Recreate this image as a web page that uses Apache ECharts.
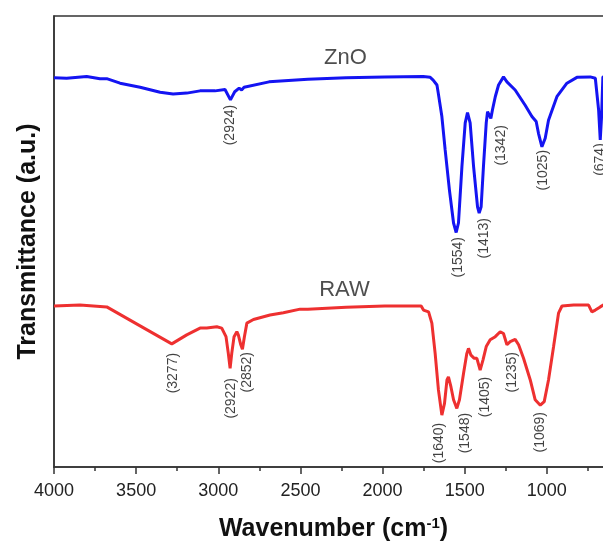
<!DOCTYPE html>
<html>
<head>
<meta charset="utf-8">
<script src="https://cdn.jsdelivr.net/npm/echarts@6/dist/echarts.min.js"></script>
<style>html,body{margin:0;padding:0;background:#fff;overflow:hidden}#c{width:603px;height:542px}</style>
</head>
<body>
<div id="c"></div>
<script>
// ---- data (wavenumber cm^-1, transmittance a.u.) ----
const znoSpectrum = [
 [4000,86.3],[3923,86.2],[3801,86.6],[3720,86.1],[3679,86.1],[3598,85.1],[3476,84.2],[3354,83.1],
 [3275,82.7],[3192,82.9],[3111,83.4],[3020,83.4],[2959,83.7],[2926,81.4],[2900,83.2],[2873,84.0],
 [2858,83.6],[2843,84.2],[2691,85.4],[2455,86.0],[2222,86.3],[1987,86.5],[1753,86.6],[1710,86.4],
 [1692,85.8],[1669,84.7],[1661,82.9],[1639,77.7],[1619,70.3],[1593,61.4],[1568,54.1],[1552,52.0],
 [1538,54.1],[1517,66.6],[1497,76.3],[1483,78.6],[1467,76.3],[1446,66.6],[1422,57.7],[1412,56.3],
 [1400,57.7],[1386,66.6],[1369,76.3],[1361,78.8],[1349,79.2],[1341,77.3],[1331,79.2],[1314,82.1],
 [1294,84.7],[1264,86.5],[1243,85.4],[1193,83.6],[1132,80.2],[1091,77.7],[1065,76.6],[1051,74.0],
 [1030,71.0],[1010,72.9],[990,76.9],[939,82.1],[878,85.1],[817,86.4],[736,86.5],[705,86.2],
 [685,79.2],[675,72.5],[667,77.7],[659,86.5],[614,86.7],[520,86.7]
];
const rawSpectrum = [
 [4000,35.7],[3842,35.9],[3679,35.5],[3476,31.3],[3283,27.3],[3192,29.3],[3111,30.8],[3070,30.8],
 [3009,31.1],[2979,30.8],[2953,28.9],[2939,25.2],[2928,21.9],[2918,25.2],[2904,28.9],[2887,30.0],
 [2878,29.3],[2863,27.1],[2853,26.1],[2841,28.9],[2826,31.9],[2786,32.7],[2685,33.7],[2604,34.2],
 [2502,35.0],[2455,35.0],[2222,35.4],[1987,35.7],[1765,35.7],[1751,34.8],[1720,34.4],[1700,31.9],
 [1680,25.2],[1660,17.1],[1639,11.5],[1623,14.1],[1608,19.3],[1599,20.0],[1584,17.8],[1568,14.9],
 [1548,13.0],[1532,14.9],[1507,20.8],[1487,25.2],[1477,26.3],[1462,24.8],[1442,24.1],[1426,24.1],
 [1406,21.5],[1389,23.7],[1369,26.7],[1345,28.2],[1314,28.9],[1284,30.0],[1264,29.6],[1243,27.1],
 [1223,27.8],[1193,28.3],[1172,27.1],[1142,24.1],[1101,19.3],[1071,14.9],[1040,13.7],[1016,14.5],
 [990,19.3],[959,26.7],[929,34.1],[908,35.7],[837,35.9],[746,35.9],[726,34.4],[705,34.8],
 [675,35.5],[657,35.9],[614,36.1],[520,36.1]
];
// peak annotations: text, anchor wavenumber, anchor transmittance
const znoPeakText = ['(2924)','(1554)','(1413)','(1342)','(1025)','(674)'];
const znoPeakX    = [2926, 1543, 1384, 1280, 1020, 675];
const znoPeakY    = [80.3, 51.0, 55.2, 75.8, 70.3, 71.8];
const rawPeakText = ['(3277)','(2922)','(2852)','(1640)','(1548)','(1405)','(1235)','(1069)'];
const rawPeakX    = [3275, 2923, 2825, 1658, 1497, 1375, 1213, 1040];
const rawPeakY    = [25.3, 19.7, 25.5, 9.8, 12.0, 20.0, 25.5, 12.2];
const seriesNames = ['ZnO','RAW'];
const nameX = [2226, 2232];
const nameY = [90.7, 39.3];
const xTicks = {min:500, max:4000, interval:500};

const FONT = '"Liberation Sans", Arial, sans-serif';
const chart = echarts.init(document.getElementById('c'), null, {renderer:'canvas'});

function peakData(t, x, y){ return t.map((s,i)=>[x[i], y[i], s]); }

const labelStyle = {
  show:true, position:'inside', rotate:90, align:'right', verticalAlign:'middle',
  formatter: p => p.value[2], fontSize:14, color:'#111', fontFamily:FONT
};

chart.setOption({
  animation:false,
  backgroundColor:'#fff',
  grid:{left:54, top:16, right:-26, bottom:75, outerBoundsMode:'none', containLabel:false,
        show:true, borderColor:'#333', borderWidth:1.5, backgroundColor:'transparent'},
  xAxis:{
    type:'value', inverse:true, min:xTicks.min, max:xTicks.max, interval:xTicks.interval,
    axisLine:{show:true, lineStyle:{color:'#333', width:1.5}},
    axisTick:{show:true, inside:false, length:7, lineStyle:{color:'#333', width:1.5}},
    minorTick:{show:true, splitNumber:2, length:4, lineStyle:{color:'#333', width:1.5}},
    splitLine:{show:false},
    axisLabel:{fontSize:18, color:'#222', margin:15, fontFamily:FONT, formatter: v => String(v)},
    name:'Wavenumber (cm{sup|-1})', nameLocation:'middle', nameGap:49,
    nameTextStyle:{fontSize:25, fontWeight:'bold', color:'#111', fontFamily:FONT, padding:[0,16,0,0],
      rich:{sup:{fontSize:15, fontWeight:'bold', color:'#111', fontFamily:FONT, verticalAlign:'top', padding:[0,0,12,0]}}}
  },
  yAxis:{
    type:'value', min:0, max:100,
    axisLine:{show:true, lineStyle:{color:'#333', width:1.5}},
    axisTick:{show:false}, axisLabel:{show:false}, splitLine:{show:false},
    name:'Transmittance (a.u.)', nameLocation:'middle', nameRotate:90, nameGap:13,
    nameTextStyle:{fontSize:25, fontWeight:'bold', color:'#111', fontFamily:FONT}
  },
  series:[
    {type:'line', name:seriesNames[0], data:znoSpectrum, showSymbol:false, symbol:'none',
     lineStyle:{color:'#1414f2', width:3}, z:3},
    {type:'line', name:seriesNames[1], data:rawSpectrum, showSymbol:false, symbol:'none',
     lineStyle:{color:'#ee3030', width:3}, z:3},
    {type:'scatter', data:peakData(znoPeakText, znoPeakX, znoPeakY), symbolSize:0,
     itemStyle:{color:'rgba(0,0,0,0)'}, label:labelStyle, silent:true, z:4},
    {type:'scatter', data:peakData(rawPeakText, rawPeakX, rawPeakY), symbolSize:0,
     itemStyle:{color:'rgba(0,0,0,0)'}, label:labelStyle, silent:true, z:4},
    {type:'scatter', data:seriesNames.map((n,i)=>[nameX[i], nameY[i], n]), symbolSize:0,
     itemStyle:{color:'rgba(0,0,0,0)'}, silent:true, z:4,
     label:{show:true, position:'inside', formatter:p=>p.value[2], fontSize:22, color:'#222', fontFamily:FONT}}
  ]
});
</script>
</body>
</html>
